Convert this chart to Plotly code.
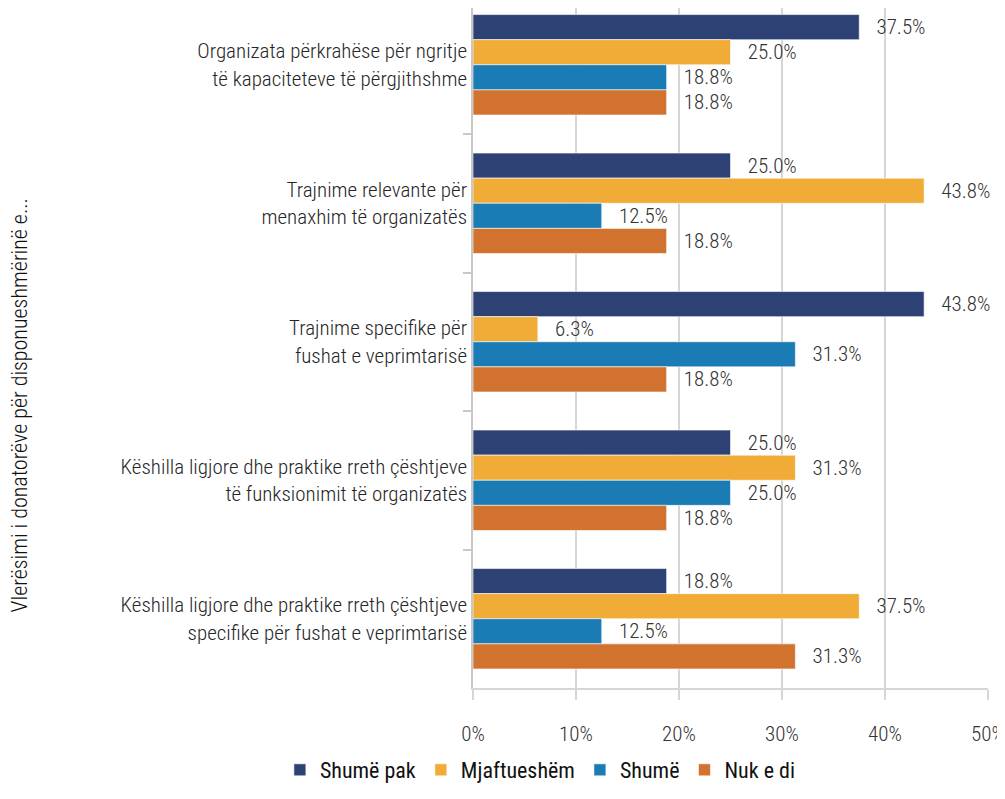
import plotly.graph_objects as go

categories = [
    "Organizata përkrahëse për ngritje<br>të kapaciteteve të përgjithshme",
    "Trajnime relevante për<br>menaxhim të organizatës",
    "Trajnime specifike për<br>fushat e veprimtarisë",
    "Këshilla ligjore dhe praktike rreth çështjeve<br>të funksionimit të organizatës",
    "Këshilla ligjore dhe praktike rreth çështjeve<br>specifike për fushat e veprimtarisë",
]

series_names = ["Shumë pak", "Mjaftueshëm", "Shumë", "Nuk e di"]

shume_pak = [37.5, 25.0, 43.8, 25.0, 18.8]
mjaftueshem = [25.0, 43.8, 6.3, 31.3, 37.5]
shume = [18.8, 12.5, 31.3, 25.0, 12.5]
nuk_e_di = [18.8, 18.8, 18.8, 18.8, 31.3]

x_ticks = [0, 10, 20, 30, 40, 50]
x_tick_labels = ["0%", "10%", "20%", "30%", "40%", "50%"]

colors = ["#2E4174", "#F0AC36", "#1A7BB5", "#D1722E"]

FONT = "Roboto Condensed Light, Roboto Condensed, Liberation Sans Narrow, Roboto, sans-serif"
FONT_REG = "Roboto Condensed, Liberation Sans Narrow, Roboto, sans-serif"

# the page body keeps an 8px margin, so the figure is sized 8px smaller
fig = go.Figure()

for name, vals, col in zip(series_names, [shume_pak, mjaftueshem, shume, nuk_e_di], colors):
    fig.add_trace(
        go.Bar(
            y=categories,
            x=vals,
            name=name,
            orientation="h",
            marker=dict(color=col, line=dict(color="white", width=0.6)),
            texttemplate="\u00a0\u00a0\u00a0%{x:.1f}%",
            textposition="outside",
            cliponaxis=False,
            textfont=dict(size=21, color="#333333", family=FONT, weight=300),
        )
    )

fig.update_layout(
    width=997,
    height=791,
    barmode="group",
    bargap=0.275,
    bargroupgap=0,
    plot_bgcolor="white",
    paper_bgcolor="white",
    font=dict(family=FONT, size=21, color="#262626", weight=300),
    margin=dict(l=465, r=17, t=0, b=111),
    xaxis=dict(
        range=[0, 50],
        tickvals=x_ticks,
        ticktext=x_tick_labels,
        showgrid=True,
        gridcolor="#D6D6D6",
        gridwidth=1.5,
        zeroline=False,
        showline=True,
        linecolor="#D6D6D6",
        linewidth=1.5,
        ticks="outside",
        tickcolor="#D6D6D6",
        tickwidth=1.5,
        ticklen=10,
        ticklabelstandoff=16,
        tickfont=dict(size=21, color="#333333", family=FONT, weight=300),
    ),
    yaxis=dict(
        autorange=False,
        range=[4.5, -0.41],
        showline=True,
        linecolor="#C8C8C8",
        linewidth=1.5,
        ticks="outside",
        tickson="boundaries",
        tickcolor="#C8C8C8",
        tickwidth=1.5,
        ticklen=8,
        tickfont=dict(size=21, color="#262626", family=FONT, weight=300),
    ),
    legend=dict(
        orientation="h",
        x=-0.375,
        xref="paper",
        xanchor="left",
        y=-0.1206,
        yref="paper",
        yanchor="middle",
        font=dict(size=22, color="#111111", family=FONT_REG, weight=400),
        itemwidth=30,
    ),
    annotations=[
        dict(
            text="Vlerësimi i donatorëve për disponueshmërinë e...",
            xref="paper",
            yref="paper",
            x=-0.881,
            y=0.416,
            xanchor="center",
            yanchor="middle",
            textangle=-90,
            showarrow=False,
            font=dict(size=22, color="#111111", family=FONT, weight=300),
        )
    ],
)

fig.write_html("out.html")
